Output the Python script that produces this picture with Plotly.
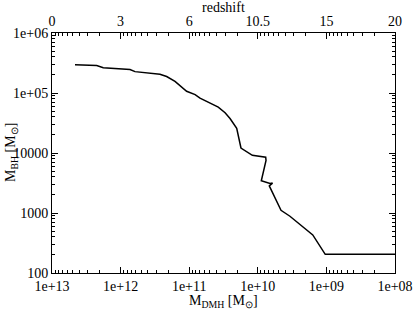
import plotly.graph_objects as go

# data
m_dmh = [4.62e12, 2.23e12, 1.79e12, 7.29e11, 6.17e11, 2.67e11, 2.13e11, 1.61e11,
         1.09e11, 8.2e10, 6.96e10, 3.77e10, 3.0e10, 2.54e10, 2.03e10, 1.92e10,
         1.76e10, 1.20e10, 7.67e9, 7.59e9, 8.89e9, 6.64e9, 6.1e9, 6.8e9,
         4.59e9, 3.40e9, 1.58e9, 1.04e9, 1.0e8]
m_bh = [2.95e5, 2.88e5, 2.64e5, 2.47e5, 2.27e5, 2.05e5, 1.88e5, 1.56e5,
        1.07e5, 9.4e4, 8.2e4, 5.83e4, 4.7e4, 3.75e4, 2.57e4, 1.88e4,
        1.21e4, 9170, 8500, 7490, 3440, 3100, 3150, 2830,
        1107, 883, 431, 205, 205]

x_tickvals = [1e13, 1e12, 1e11, 1e10, 1e9, 1e8]
x_ticktext = ["1e+13", "1e+12", "1e+11", "1e+10", "1e+09", "1e+08"]
z_ticktext = ["0", "3", "6", "10.5", "15", "20"]
y_tickvals = [1e2, 1e3, 1e4, 1e5, 1e6]
y_ticktext = ["100", "1000", "10000", "1e+05", "1e+06"]

FONT = "Liberation Serif"
X_RANGE = [13, 8]
Y_RANGE = [2, 6]

fig = go.Figure()
fig.add_trace(go.Scatter(x=m_dmh, y=m_bh, mode="lines",
                         line=dict(color="black", width=1.5),
                         showlegend=False, hoverinfo="skip"))
# invisible helpers so the extra axes are drawn
fig.add_trace(go.Scatter(x=[1e10], y=[1e3], xaxis="x2", mode="markers",
                         marker=dict(opacity=0), showlegend=False, hoverinfo="skip"))
fig.add_trace(go.Scatter(x=[1e10], y=[1e3], xaxis="x3", yaxis="y2", mode="markers",
                         marker=dict(opacity=0), showlegend=False, hoverinfo="skip"))

base = dict(type="log", showgrid=False, zeroline=False, automargin=False,
            tickcolor="black", tickwidth=1, ticks="inside",
            tickfont=dict(family=FONT, size=14, color="black"))
major = dict(**base, showline=True, linecolor="black", linewidth=1,
             ticklen=6, tickmode="array")
minor = dict(**base, showline=False, ticklen=3, tickmode="linear", dtick="D1",
             showticklabels=False, mirror="ticks")

fig.update_layout(
    width=415, height=311,
    margin=dict(l=52, r=20, t=33, b=38),
    paper_bgcolor="white", plot_bgcolor="white",
    font=dict(family=FONT, size=14, color="black"),
    hovermode=False,
    xaxis=dict(**major, range=X_RANGE, tickvals=x_tickvals, ticktext=x_ticktext),
    xaxis2=dict(**major, range=X_RANGE, tickvals=x_tickvals, ticktext=z_ticktext,
                overlaying="x", side="top", anchor="y"),
    xaxis3=dict(**minor, range=X_RANGE, overlaying="x", side="bottom", anchor="y"),
    yaxis=dict(**major, range=Y_RANGE, tickvals=y_tickvals, ticktext=y_ticktext,
               mirror="ticks"),
    yaxis2=dict(**minor, range=Y_RANGE, overlaying="y", side="left", anchor="x"),
)

fig.add_annotation(text="M<sub>DMH</sub> [M<sub>⊙</sub>]", xref="paper", yref="paper",
                   x=0.5, y=0, yanchor="middle", yshift=-28, showarrow=False,
                   font=dict(family=FONT, size=14, color="black"))
fig.add_annotation(text="redshift", xref="paper", yref="paper",
                   x=0.5, y=1, yanchor="middle", yshift=26, showarrow=False,
                   font=dict(family=FONT, size=14, color="black"))
fig.add_annotation(text="M<sub>BH</sub> [M<sub>⊙</sub>]", xref="paper", yref="paper",
                   x=0, y=0.5, xanchor="center", xshift=-41, textangle=-90,
                   showarrow=False, font=dict(family=FONT, size=14, color="black"))

fig.write_html("out.html", config={"displayModeBar": False, "staticPlot": True},
               post_script="document.body.style.margin='0';document.body.style.padding='0';")
